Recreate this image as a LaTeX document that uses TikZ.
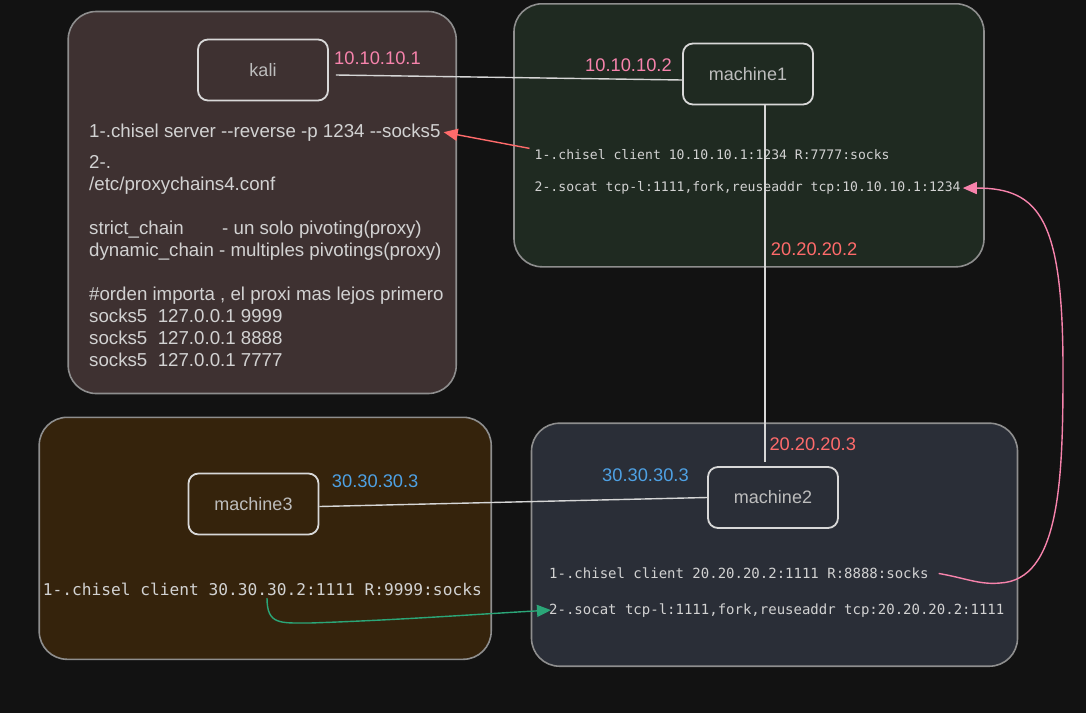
\documentclass[tikz,border=0pt]{standalone}
\usepackage{fontspec}
\setmainfont{Liberation Sans}
\setmonofont{DejaVu Sans Mono}
\usetikzlibrary{arrows.meta}

\definecolor{bg}{HTML}{121212}
\definecolor{kalifill}{HTML}{3E3131}
\definecolor{mfill1}{HTML}{1F2A21}
\definecolor{mfill2}{HTML}{2A2E37}
\definecolor{mfill3}{HTML}{35230C}
\definecolor{zoneline}{HTML}{8E8E8E}
\definecolor{hostline}{HTML}{D8D8D8}
\definecolor{hosttext}{HTML}{BDBDBD}
\definecolor{cmdtext}{HTML}{D2D2D2}
\definecolor{linkgray}{HTML}{D6D6D6}
\definecolor{pinkip}{HTML}{F783AC}
\definecolor{redip}{HTML}{FF6B6B}
\definecolor{blueip}{HTML}{4EA1E4}
\definecolor{greenarr}{HTML}{2BA678}

\begin{document}
\begin{tikzpicture}[x=1pt,y=-1pt,
	zone/.style={draw=zoneline, line width=1.6pt, rounded corners=28pt, inner sep=0pt},
	host/.style={draw=hostline, line width=1.8pt, rounded corners=10pt, minimum width=130pt, minimum height=61pt, text=hosttext, font=\fontsize{18}{22}\selectfont},
	ip/.style={anchor=base west, inner sep=0pt, font=\fontsize{18.3}{22}\selectfont},
	cmd/.style={anchor=base west, inner sep=0pt, text=cmdtext},
	link/.style={draw=linkgray, line width=1.4pt},
	arr/.style={line width=1.4pt, -{Triangle[length=14pt,width=12pt]}}]
					\fill[bg] (0,0) rectangle (1086,713);
					\useasboundingbox (0,0) rectangle (1086,713);
					% zones
					\node[zone, fill=kalifill, minimum width=388pt, minimum height=382pt] (KZ) at (262.2,202.5) {};
					\node[zone, fill=mfill1, minimum width=470pt, minimum height=263pt] (M1Z) at (749,135.3) {};
					\node[zone, fill=mfill3, minimum width=452pt, minimum height=242pt] (M3Z) at (265.2,538.3) {};
					\node[zone, fill=mfill2, minimum width=486pt, minimum height=243pt] (M2Z) at (774.5,544.7) {};
					% hosts
					\node[host] (K) at (263,70) {kali};
					\node[host] (M1) at (748,74) {machine1};
					\node[host] (M3) at (253.5,504) {machine3};
					\node[host] (M2) at (773,497.5) {machine2};
					% addresses
					\node[ip, text=pinkip] (ipK) at (334,64) {10.10.10.1};
					\node[ip, text=pinkip] (ipM1a) at (585,71.7) {10.10.10.2};
					\node[ip, text=redip] (ipM1b) at (770.7,255.7) {20.20.20.2};
					\node[ip, text=redip] (ipM2a) at (769.3,450) {20.20.20.3};
					\node[ip, text=blueip] (ipM2b) at (602,481.7) {30.30.30.3};
					\node[ip, text=blueip] (ipM3) at (331.7,487.7) {30.30.30.3};
					% commands
					\node[cmd, font=\fontsize{18.7}{22}\selectfont] (Kc1) at (89,137) {1-.chisel server -{}-reverse -p 1234 -{}-socks5};
					\node[cmd, font=\fontsize{18.7}{22}\selectfont, align=left] (Kc2) at (89,366) {2-.\\/etc/proxychains4.conf\\[22pt]\makebox[133pt][l]{strict\_chain}- un solo pivoting(proxy)\\dynamic\_chain - multiples pivotings(proxy)\\[22pt]\#orden importa , el proxi mas lejos primero\\socks5\ \ 127.0.0.1 9999\\socks5\ \ 127.0.0.1 8888\\socks5\ \ 127.0.0.1 7777};
					\node[cmd, font=\ttfamily\fontsize{13.1}{16}\selectfont] (M1c1) at (534.5,159.3) {1-.chisel client 10.10.10.1:1234 R:7777:socks};
					\node[cmd, font=\ttfamily\fontsize{13.1}{16}\selectfont] (M1c2) at (534.5,191.7) {2-.socat tcp-l:1111,fork,reuseaddr tcp:10.10.10.1:1234};
					\node[cmd, font=\ttfamily\fontsize{14}{17}\selectfont] (M2c1) at (549,578.7) {1-.chisel client 20.20.20.2:1111 R:8888:socks};
					\node[cmd, font=\ttfamily\fontsize{14}{17}\selectfont] (M2c2) at (549,614) {2-.socat tcp-l:1111,fork,reuseaddr tcp:20.20.20.2:1111};
					\node[cmd, font=\ttfamily\fontsize{16.2}{19}\selectfont] (M3c1) at (42.7,595.7) {1-.chisel client 30.30.30.2:1111 R:9999:socks};
					\coordinate (tap) at (267,598);
					% links
					\draw[link] ([xshift=7pt,yshift=-5pt]K.east) -- ([yshift=-6pt]M1.west);
					\draw[link] ([xshift=17pt]M1.south) -- ([xshift=17pt,yshift=4pt]M1.south |- M2.north);
					\draw[link] ([yshift=-2.5pt]M3.east) -- (M2.west);
					\draw[arr, redip] ([xshift=-5pt,yshift=6pt]M1c1.west) -- ([xshift=3pt]Kc1.east);
					\draw[arr, pinkip] ([xshift=10pt]M2c1.east) .. controls (965,578) and (980,585) .. (1000,583) .. controls (1060,580) and (1063,480) .. (1063,370) .. controls (1063,220) and (1040,188) .. ([xshift=2pt]M1c2.east);
					\draw[arr, greenarr] (tap) .. controls (267,625) and (280,623) .. (310,623) .. controls (400,620) and (480,614) .. ([xshift=2pt]M2c2.west);
				\end{tikzpicture}
\end{document}
